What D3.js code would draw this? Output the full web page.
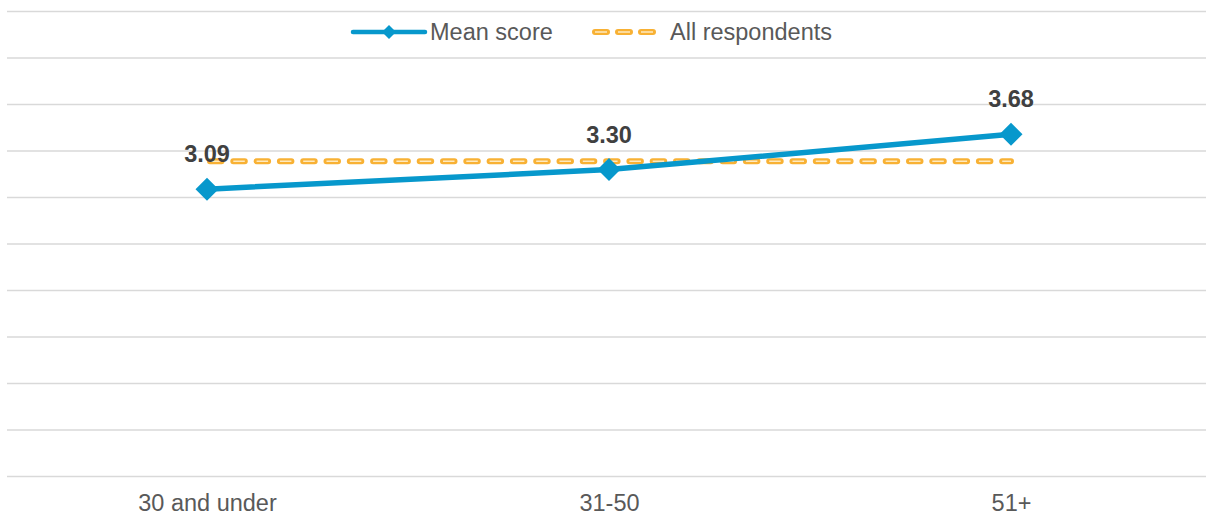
<!DOCTYPE html>
<html>
<head>
<meta charset="utf-8">
<script src="https://cdn.jsdelivr.net/npm/d3@7"></script>
<style>
  html, body { margin: 0; padding: 0; background: #fff; }
  svg { display: block; font-family: "Liberation Sans", Arial, sans-serif; }
</style>
</head>
<body>
<svg id="chart" width="1206" height="515"></svg>
<script>
// Age groups and their mean scores
const categories = ["30 and under", "31-50", "51+"];
const meanScores = [3.09, 3.30, 3.68];
// Reference level across all respondents
const allRespondents = [3.39, 3.39, 3.39];
const yTicks = [0, 0.5, 1, 1.5, 2, 2.5, 3, 3.5, 4, 4.5, 5];

const W = 1206, H = 515;
const svg = d3.select("#chart");

const x = d3.scalePoint().domain(categories).range([6, 1212]).padding(0.5);
const y = d3.scaleLinear().domain([0, 5]).range([476.5, 11.5]);

const BLUE = "#0798CC";
const ORANGE = "#F8B134";

// Horizontal gridlines
svg.append("g")
  .selectAll("line")
  .data(yTicks)
  .join("line")
  .attr("x1", 7).attr("x2", W)
  .attr("y1", d => y(d)).attr("y2", d => y(d))
  .attr("stroke", "#d9d9d9")
  .attr("stroke-width", 1.5);

// Category axis labels
const xAxis = d3.axisBottom(x).tickSize(0).tickPadding(0);
const gx = svg.append("g").attr("transform", `translate(0,${y(0)})`).call(xAxis);
gx.select(".domain").remove();
gx.selectAll("text")
  .attr("y", 34.5)
  .attr("dy", null)
  .attr("fill", "#595959")
  .style("font-size", "23.5px")
  .style("font-family", "'Liberation Sans', Arial, sans-serif");

// All respondents dashed line
const refLine = d3.line().x((d, i) => x(categories[i])).y(d => y(d));
svg.append("path")
  .datum(allRespondents)
  .attr("d", refLine)
  .attr("fill", "none")
  .attr("stroke", ORANGE)
  .attr("stroke-width", 6)
  .attr("stroke-linecap", "round")
  .attr("stroke-dasharray", "11.5 11.8")
  .attr("stroke-dashoffset", -3);
svg.append("path")
  .datum(allRespondents)
  .attr("d", refLine)
  .attr("fill", "none")
  .attr("stroke", "#fde9bf")
  .attr("stroke-width", 1.4)
  .attr("stroke-dasharray", "11.5 11.8")
  .attr("stroke-dashoffset", -3);

// Mean score line with diamond markers
const meanLine = d3.line().x((d, i) => x(categories[i])).y(d => y(d));
svg.append("path")
  .datum(meanScores)
  .attr("d", meanLine)
  .attr("fill", "none")
  .attr("stroke", BLUE)
  .attr("stroke-width", 5.5)
  .attr("stroke-linejoin", "round");

const diamond = s => `M0,${-s}L${s},0L0,${s}L${-s},0Z`;
svg.append("g")
  .selectAll("path")
  .data(meanScores)
  .join("path")
  .attr("transform", (d, i) => `translate(${x(categories[i])},${y(d)})`)
  .attr("d", diamond(11.5))
  .attr("fill", BLUE);

// Value labels
svg.append("g")
  .selectAll("text")
  .data(meanScores)
  .join("text")
  .attr("x", (d, i) => x(categories[i]))
  .attr("y", d => y(d) - 27)
  .attr("text-anchor", "middle")
  .attr("fill", "#404040")
  .style("font-size", "23.5px")
  .style("font-weight", "bold")
  .text(d => d.toFixed(2));

// Legend
const legend = svg.append("g");
const ly = 32;
legend.append("line")
  .attr("x1", 353).attr("x2", 425).attr("y1", ly).attr("y2", ly)
  .attr("stroke", BLUE).attr("stroke-width", 4.5).attr("stroke-linecap", "round");
legend.append("path")
  .attr("transform", `translate(389,${ly})`)
  .attr("d", diamond(7))
  .attr("fill", BLUE);
legend.append("text")
  .attr("x", 430).attr("y", ly + 8)
  .attr("fill", "#595959")
  .style("font-size", "23.5px")
  .text("Mean score");

legend.append("line")
  .attr("x1", 595).attr("x2", 658).attr("y1", ly).attr("y2", ly)
  .attr("stroke", ORANGE).attr("stroke-width", 6)
  .attr("stroke-linecap", "round").attr("stroke-dasharray", "12 11");
legend.append("line")
  .attr("x1", 595).attr("x2", 658).attr("y1", ly).attr("y2", ly)
  .attr("stroke", "#fde9bf").attr("stroke-width", 1.4)
  .attr("stroke-dasharray", "12 11");
legend.append("text")
  .attr("x", 670).attr("y", ly + 8)
  .attr("fill", "#595959")
  .style("font-size", "23.5px")
  .text("All respondents");
</script>
</body>
</html>
